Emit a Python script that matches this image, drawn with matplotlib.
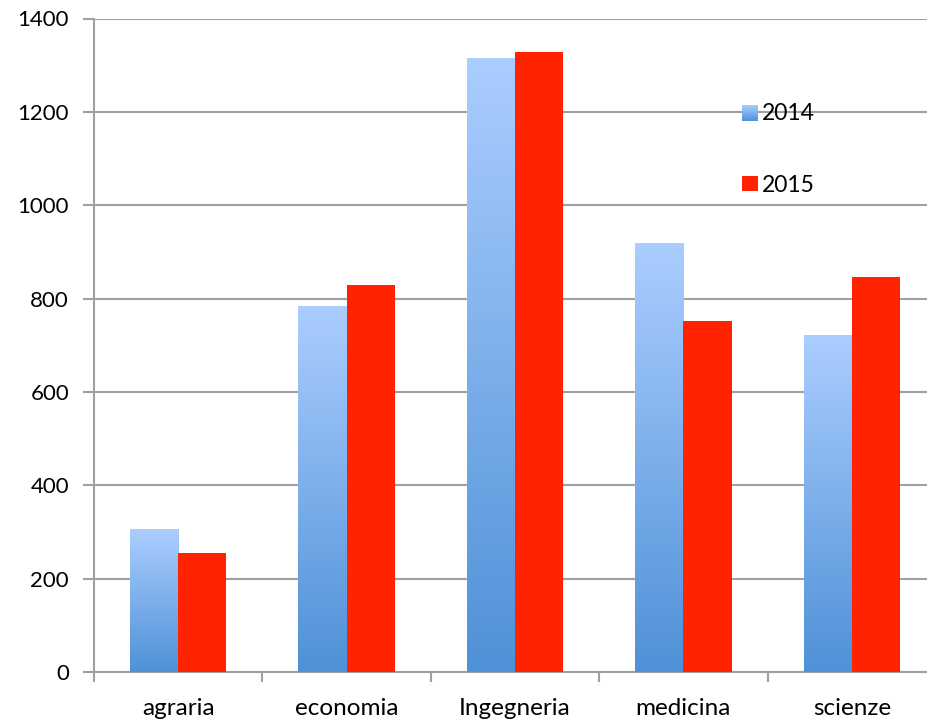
import numpy as np
import matplotlib
matplotlib.use("Agg")
import matplotlib.pyplot as plt
from matplotlib.colors import LinearSegmentedColormap

categories = ["agraria", "economia", "Ingegneria", "medicina", "scienze"]
values_2014 = [305, 784, 1315, 917, 720]
values_2015 = [255, 829, 1328, 753, 846]
series_labels = ["2014", "2015"]
y_ticks = [0, 200, 400, 600, 800, 1000, 1200, 1400]

W, H = 927, 725
plt.rcParams["font.family"] = ["Lato", "DejaVu Sans"]

blue_grad = LinearSegmentedColormap.from_list("bg", ["#4f91d7", "#abcdff"])
red = "#ff2300"
grid_c = "#a0a0a0"

fig = plt.figure(figsize=(W / 100, H / 100), dpi=100)
# right edge of the plot runs past the picture edge, as in the original
ax = fig.add_axes([94 / W, (H - 672) / H, (936 - 94) / W, (672 - 18.5) / H])

x = np.arange(len(categories))
bw = 0.286
b14 = ax.bar(x - bw, values_2014, bw, align="edge", color="none", zorder=3)
b15 = ax.bar(x, values_2015, bw, align="edge", color=red, zorder=3)

# vertical gradient inside every 2014 bar
grad = np.linspace(0, 1, 256).reshape(-1, 1)
for r in b14:
    x0, w, h = r.get_x(), r.get_width(), r.get_height()
    ax.imshow(grad, cmap=blue_grad, origin="lower", aspect="auto",
              extent=(x0, x0 + w, 0, h), zorder=2.9)

ax.set_xlim(-0.5, len(categories) - 0.5)
ax.set_ylim(0, 1400)

ax.set_yticks(y_ticks)
ax.set_yticklabels([str(v) for v in y_ticks])
ax.yaxis.grid(True, color=grid_c, linewidth=1.5)
ax.set_axisbelow(True)

ax.set_xticks(np.arange(len(categories) + 1) - 0.5)
ax.set_xticklabels([])
ax.set_xticks(x, minor=True)
ax.set_xticklabels(categories, minor=True)
ax.tick_params(axis="x", which="minor", length=0, pad=19, labelsize=17.5)
ax.tick_params(axis="x", which="major", length=7, width=1.5, color=grid_c)
ax.tick_params(axis="y", length=8, width=1.5, color=grid_c, pad=10, labelsize=16)

for s in ["top", "right"]:
    ax.spines[s].set_visible(False)
for s in ["left", "bottom"]:
    ax.spines[s].set_color(grid_c)
    ax.spines[s].set_linewidth(1.5)

# legend drawn by hand: gradient swatch for 2014, plain red for 2015
lg1 = fig.add_axes([742 / W, 1 - 121 / H, 16 / W, 16 / H])
lg1.imshow(grad, cmap=blue_grad, origin="lower", aspect="auto")
lg1.axis("off")
lg2 = fig.add_axes([742 / W, 1 - 191 / H, 16 / W, 15 / H])
lg2.set_facecolor(red)
lg2.set_xticks([])
lg2.set_yticks([])
for s in lg2.spines.values():
    s.set_visible(False)
fig.text(762 / W, 1 - 114 / H, series_labels[0], fontsize=16.5, va="center")
fig.text(762 / W, 1 - 185 / H, series_labels[1], fontsize=16.5, va="center")

fig.savefig("out.png", dpi=100)
